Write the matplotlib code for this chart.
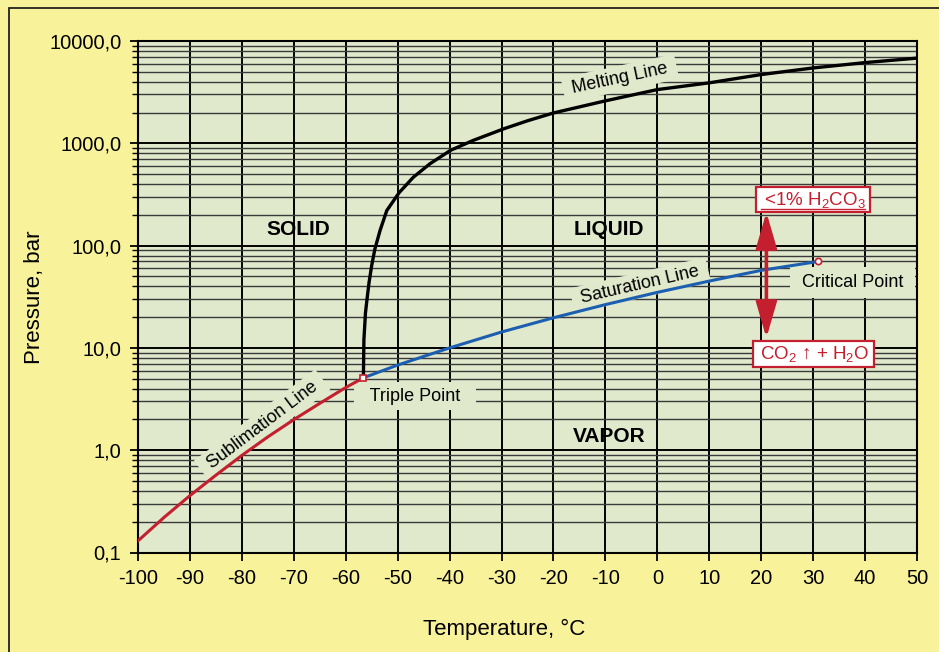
import numpy as np
import matplotlib
matplotlib.use("Agg")
import matplotlib.pyplot as plt
from matplotlib.ticker import FixedLocator, FuncFormatter, LogLocator, NullFormatter
from matplotlib.patches import Rectangle
from matplotlib.lines import Line2D

plt.rcParams['font.family'] = ['Liberation Sans', 'DejaVu Sans']
plt.rcParams['mathtext.fontset'] = 'custom'
plt.rcParams['mathtext.rm'] = 'Liberation Sans'
plt.rcParams['mathtext.it'] = 'Liberation Sans'
plt.rcParams['axes.unicode_minus'] = False

# data
sub_T = [-100, -95, -90, -85, -80, -75, -70, -65, -60, -56.6]
sub_P = [0.13, 0.22, 0.36, 0.57, 0.89, 1.35, 1.99, 2.87, 4.1, 5.1]

sat_T = [-56.6, -50, -40, -30, -20, -10, 0, 10, 20, 31]
sat_P = [5.1, 6.8, 10.0, 14.3, 19.7, 26.5, 34.9, 45.0, 57.3, 70]

melt_T = [-56.6, -56.5, -56.2, -55.9, -55.5, -55.0, -54.4, -53.4, -52.1, -49.7, -47.0, -43.8,
          -39.8, -35.4, -29.5, -25.0, -20.0, -10.0, 0.0, 10.0, 20.0, 30.0, 40.0, 50.0]
melt_P = [5.1, 12, 22, 30, 44, 64, 92, 140, 220, 330, 465, 630,
          855, 1070, 1390, 1660, 1980, 2600, 3350, 3900, 4700, 5450, 6150, 6800]

triple_pt = (-56.6, 5.1)
critical_pt = (31, 70)

x_ticks = list(range(-100, 51, 10))
y_ticks = [0.1, 1, 10, 100, 1000, 10000]

yellow = '#f8f29b'
green = '#e0e9cc'
red = '#c41f2e'
blue = '#1c5fb0'

fig = plt.figure(figsize=(9.39, 6.52), dpi=100, facecolor=yellow)
# outer frame (only top and left edges show in the crop)
fig.patches.append(Rectangle((9 / 939, -0.1), 1.2, 1 - 8 / 652 + 0.1,
                             transform=fig.transFigure, fill=False,
                             edgecolor='#222222', lw=1.3))

ax = fig.add_axes([138 / 939, 1 - 552.5 / 652, (917 - 138) / 939, (552.5 - 41) / 652])
ax.set_facecolor(green)
ax.set_yscale('log')
ax.set_xlim(-100, 50)
ax.set_ylim(0.1, 10000)

ax.xaxis.set_major_locator(FixedLocator(x_ticks))
ax.yaxis.set_major_locator(FixedLocator(y_ticks))
ax.yaxis.set_minor_locator(LogLocator(base=10, subs=np.arange(2, 10)))
ax.yaxis.set_minor_formatter(NullFormatter())
ax.yaxis.set_major_formatter(FuncFormatter(lambda v, p: ('%.1f' % v).replace('.', ',')))

ax.grid(True, which='major', color='black', lw=1.4)
ax.grid(True, which='minor', axis='y', color='#3a3a3a', lw=1.0)
ax.set_axisbelow(True)

ax.tick_params(axis='both', which='major', direction='out', length=6, width=1.3,
               labelsize=14.5, pad=6, colors='black')
ax.tick_params(axis='y', which='minor', direction='out', length=4, width=1.0)
for s in ax.spines.values():
    s.set_linewidth(1.5)
    s.set_color('black')

ax.set_xlabel('Temperature, °C', fontsize=16, labelpad=22)
ax.xaxis.label.set_x(0.47)
ax.set_ylabel('Pressure, bar', fontsize=16, labelpad=3)

# phase lines
ax.plot(melt_T, melt_P, color='black', lw=2.4, zorder=4)
ax.plot(sat_T, sat_P, color=blue, lw=2.2, zorder=4)
ax.plot(sub_T, sub_P, color=red, lw=2.2, zorder=4)
ax.plot(*triple_pt, marker='s', ms=4, mfc='white', mec=red, mew=1.2, zorder=6)
ax.plot(*critical_pt, marker='o', ms=4.5, mfc='white', mec=red, mew=1.2, zorder=6)

lab_box = dict(facecolor=green, edgecolor='none', pad=3)
ax.text(-69.2, 144, 'SOLID', fontsize=15, fontweight='bold', ha='center', va='center', zorder=5)
ax.text(-9.3, 144, 'LIQUID', fontsize=15, fontweight='bold', ha='center', va='center', zorder=5)
ax.text(-9.3, 1.37, 'VAPOR', fontsize=15, fontweight='bold', ha='center', va='center', zorder=5)

ax.text(-7.2, 4300, ' Melting Line ', fontsize=13, rotation=12, ha='center', va='center',
        bbox=lab_box, zorder=3)
ax.text(-3.3, 41, ' Saturation Line ', fontsize=13, rotation=13, ha='center', va='center',
        bbox=lab_box, zorder=3)
ax.text(-76.1, 1.76, ' Sublimation Line ', fontsize=13, rotation=37, ha='center', va='center',
        bbox=lab_box, zorder=3)
ax.text(-46.7, 3.38, '  Triple Point  ', fontsize=13, ha='center', va='center',
        bbox=dict(facecolor=green, edgecolor='none', pad=4), zorder=3)
ax.text(37.6, 43.5, ' Critical Point ', fontsize=13, ha='center', va='center',
        bbox=dict(facecolor=green, edgecolor='none', pad=5), zorder=3)

# red annotation boxes and arrow
ax.annotate('', xy=(21, 212), xytext=(21, 12.5),
            arrowprops=dict(arrowstyle='<|-|>,head_length=1.1,head_width=0.32',
                            color=red, lw=2.6, mutation_scale=20,
                            shrinkA=0, shrinkB=0), zorder=6)
red_box = dict(facecolor='white', edgecolor=red, lw=1.6, pad=2)
t_top = ax.text(30.0, 282, r' <1% H$_2$CO$_3$ ', fontsize=13.5, color=red, ha='center',
                va='center', bbox=red_box, zorder=7)
ax.text(30.0, 8.7, ' CO$_2$ ↑ + H$_2$O ', fontsize=13.5, color=red, ha='center',
        va='center', bbox=red_box, zorder=7)

# underline under the top red label
fig.canvas.draw()
bb = t_top.get_window_extent()
fig.add_artist(Line2D([bb.x0 + 2, bb.x1 - 2], [bb.y0 + 1, bb.y0 + 1],
                      transform=None, color=red, lw=1.0, zorder=8))

fig.savefig('out.png', dpi=100, facecolor=yellow)
